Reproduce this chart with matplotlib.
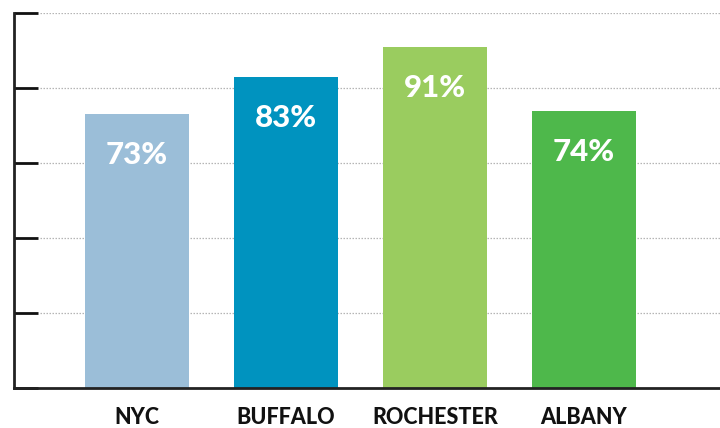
import matplotlib
matplotlib.use("Agg")
import matplotlib.pyplot as plt

categories = ["NYC", "BUFFALO", "ROCHESTER", "ALBANY"]
values = [73, 83, 91, 74]
labels = ["73%", "83%", "91%", "74%"]
colors = ["#9BBED8", "#0093BF", "#9ACC5F", "#4EB84B"]

fig = plt.figure(figsize=(7.2, 4.28), dpi=100)
ax = fig.add_axes([14/720, 40/428, 706/720, 375/428])

x = list(range(len(categories)))
ax.bar(x, values, width=0.698, color=colors, zorder=2)

ax.set_xlim(-0.826, 3.913)
ax.set_ylim(0, 100)

for yv in [20, 40, 60, 80, 100]:
    ax.plot([-0.65, 3.913], [yv, yv], color="#b5b5b5", lw=0.9,
            linestyle=(0, (1.2, 1.2)), zorder=1)

ax.set_yticks([0, 20, 40, 60, 80, 100])
ax.set_yticklabels([])
ax.tick_params(axis="y", direction="in", length=17, width=2, color="#111111")
ax.set_xticks([])

for s in ["top", "right"]:
    ax.spines[s].set_visible(False)
ax.spines["left"].set_linewidth(2)
ax.spines["left"].set_color("#222222")
ax.spines["bottom"].set_linewidth(2)
ax.spines["bottom"].set_color("#222222")

for xi, v, lab in zip(x, values, labels):
    ax.text(xi, v - 11, lab, ha="center", va="center", color="white",
            fontsize=22.5, fontweight="black", family="Lato", zorder=3)

for xi, cat in zip(x, categories):
    ax.text(xi, -8, cat, ha="center", va="center", color="#111111",
            fontsize=15.5, fontweight="black", family="Lato",
            clip_on=False)

fig.savefig("out.png", dpi=100)
